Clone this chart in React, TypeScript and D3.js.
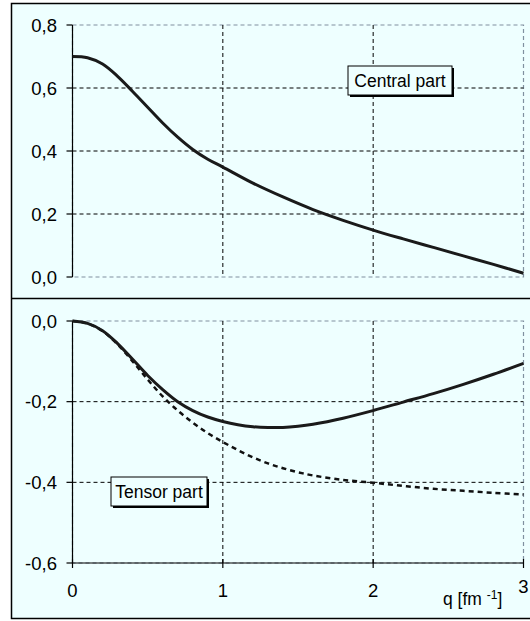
import React from "react";
import * as d3 from "d3";

const qValues = [0, 0.1, 0.2, 0.3, 0.4, 0.5, 0.6, 0.7, 0.8, 0.9, 1.0, 1.2, 1.4, 1.6, 1.8, 2.0, 2.2, 2.4, 2.6, 2.8, 3.0];
const centralValues = [0.7, 0.696, 0.676, 0.637, 0.589, 0.539, 0.489, 0.444, 0.405, 0.374, 0.349, 0.298, 0.254, 0.214, 0.18, 0.149, 0.121, 0.094, 0.067, 0.04, 0.012];

const qTensor = [0, 0.1, 0.2, 0.3, 0.4, 0.5, 0.6, 0.7, 0.8, 0.9, 1.0, 1.1, 1.2, 1.3, 1.4, 1.5, 1.6, 1.8, 2.0, 2.2, 2.4, 2.6, 2.8, 3.0];
const tensorSolid = [0, -0.006, -0.024, -0.056, -0.095, -0.135, -0.17, -0.2, -0.222, -0.238, -0.249, -0.257, -0.262, -0.264, -0.264, -0.261, -0.256, -0.241, -0.222, -0.201, -0.18, -0.157, -0.132, -0.105];
const tensorDashed = [0, -0.006, -0.025, -0.058, -0.1, -0.145, -0.187, -0.222, -0.252, -0.278, -0.3, -0.32, -0.338, -0.353, -0.365, -0.375, -0.383, -0.394, -0.401, -0.409, -0.416, -0.421, -0.426, -0.43];

const xTicks = [0, 1, 2, 3];
const topYTicks = [0, 0.2, 0.4, 0.6, 0.8];
const bottomYTicks = [0, -0.2, -0.4, -0.6];
const fmt = (v: number) => v.toFixed(1).replace(".", ",");

const BG = "#EEFFFF";
const FONT = "Arial, 'Liberation Sans', sans-serif";

export default function App() {
  const x = d3.scaleLinear().domain([0, 3]).range([72.5, 523.5]);
  const yTop = d3.scaleLinear().domain([0, 0.8]).range([277, 25]);
  const yBot = d3.scaleLinear().domain([-0.6, 0]).range([563, 321]);

  const curve = d3.curveCatmullRom.alpha(0.5);
  const lineTop = d3.line<number>().x((_, i) => x(qValues[i])).y((d) => yTop(d)).curve(curve);
  const lineBot = d3.line<number>().x((_, i) => x(qTensor[i])).y((d) => yBot(d)).curve(curve);

  const x0 = x(0), x3 = x(3);

  return (
    <svg width={530} height={621} style={{ position: "absolute", left: 0, top: 0 }} fontFamily={FONT}>
      <rect x={0} y={0} width={530} height={621} fill="white" />
      <rect x={11.5} y={3.5} width={525} height={615} fill={BG} stroke="#000" strokeWidth={1.5} />
      <line x1={11} x2={530} y1={298.5} y2={298.5} stroke="#000" strokeWidth={1.5} />

      {/* Top panel */}
      <g>
        <rect x={x0} y={yTop(0.8)} width={x3 - x0} height={yTop(0) - yTop(0.8)} fill="none" stroke="#8090a0" strokeWidth={1.2} strokeDasharray="4,3" />
        {[0.2, 0.4, 0.6].map((v) => (
          <line key={v} x1={x0} x2={x3} y1={yTop(v)} y2={yTop(v)} stroke="#000" strokeWidth={1} strokeDasharray="4,3" />
        ))}
        {[1, 2].map((v) => (
          <line key={v} x1={x(v)} x2={x(v)} y1={yTop(0.8)} y2={yTop(0)} stroke="#000" strokeWidth={1} strokeDasharray="4,3" />
        ))}
        <line x1={x0} x2={x0} y1={yTop(0.8)} y2={yTop(0)} stroke="#000" strokeWidth={1.2} />
        {topYTicks.map((v) => (
          <g key={v}>
            <line x1={x0 - 6} x2={x0} y1={yTop(v)} y2={yTop(v)} stroke="#000" strokeWidth={1.2} />
            <text x={57} y={yTop(v) + 6.5} textAnchor="end" fontSize={18.5} fill="#000">{fmt(v)}</text>
          </g>
        ))}
        <path d={lineTop(centralValues) || ""} fill="none" stroke="#1a1a1a" strokeWidth={3} />
        <rect x={350} y={68} width={104} height={29} fill="#000" />
        <rect x={348} y={66} width={104} height={29} fill={BG} stroke="#000" strokeWidth={1} />
        <text x={400} y={87} textAnchor="middle" fontSize={17.5} fill="#000">Central part</text>
      </g>

      {/* Bottom panel */}
      <g>
        <rect x={x0} y={yBot(0)} width={x3 - x0} height={yBot(-0.6) - yBot(0)} fill="none" stroke="#8090a0" strokeWidth={1.2} strokeDasharray="4,3" />
        {[-0.2, -0.4].map((v) => (
          <line key={v} x1={x0} x2={x3} y1={yBot(v)} y2={yBot(v)} stroke="#000" strokeWidth={1} strokeDasharray="4,3" />
        ))}
        {[1, 2].map((v) => (
          <line key={v} x1={x(v)} x2={x(v)} y1={yBot(0)} y2={yBot(-0.6)} stroke="#000" strokeWidth={1} strokeDasharray="4,3" />
        ))}
        <line x1={x0} x2={x0} y1={yBot(0)} y2={yBot(-0.6)} stroke="#000" strokeWidth={1.2} />
        <line x1={x0} x2={x3} y1={yBot(-0.6)} y2={yBot(-0.6)} stroke="#000" strokeWidth={1.2} />
        {bottomYTicks.map((v) => (
          <g key={v}>
            <line x1={x0 - 6} x2={x0} y1={yBot(v)} y2={yBot(v)} stroke="#000" strokeWidth={1.2} />
            <text x={57} y={yBot(v) + 6.5} textAnchor="end" fontSize={18.5} fill="#000">{fmt(v)}</text>
          </g>
        ))}
        {xTicks.map((v) => (
          <g key={v}>
            <line x1={x(v)} x2={x(v)} y1={yBot(-0.6) - 4} y2={yBot(-0.6) + 5} stroke="#000" strokeWidth={1.2} />
            <text x={x(v)} y={v === 3 ? 593 : 597} textAnchor="middle" fontSize={18.5} fill="#000">{String(v)}</text>
          </g>
        ))}
        <text x={443} y={605} fontSize={17.5} fill="#000">
          q [fm <tspan dy={-6} fontSize={12}>-1</tspan><tspan dy={6}>]</tspan>
        </text>
        <path d={lineBot(tensorDashed) || ""} fill="none" stroke="#111" strokeWidth={2.5} strokeDasharray="5,4" />
        <path d={lineBot(tensorSolid) || ""} fill="none" stroke="#1a1a1a" strokeWidth={3} />
        <rect x={113} y={479} width={96} height={29} fill="#000" />
        <rect x={111} y={477} width={96} height={29} fill={BG} stroke="#000" strokeWidth={1} />
        <text x={159} y={498} textAnchor="middle" fontSize={17.5} fill="#000">Tensor part</text>
      </g>
    </svg>
  );
}
